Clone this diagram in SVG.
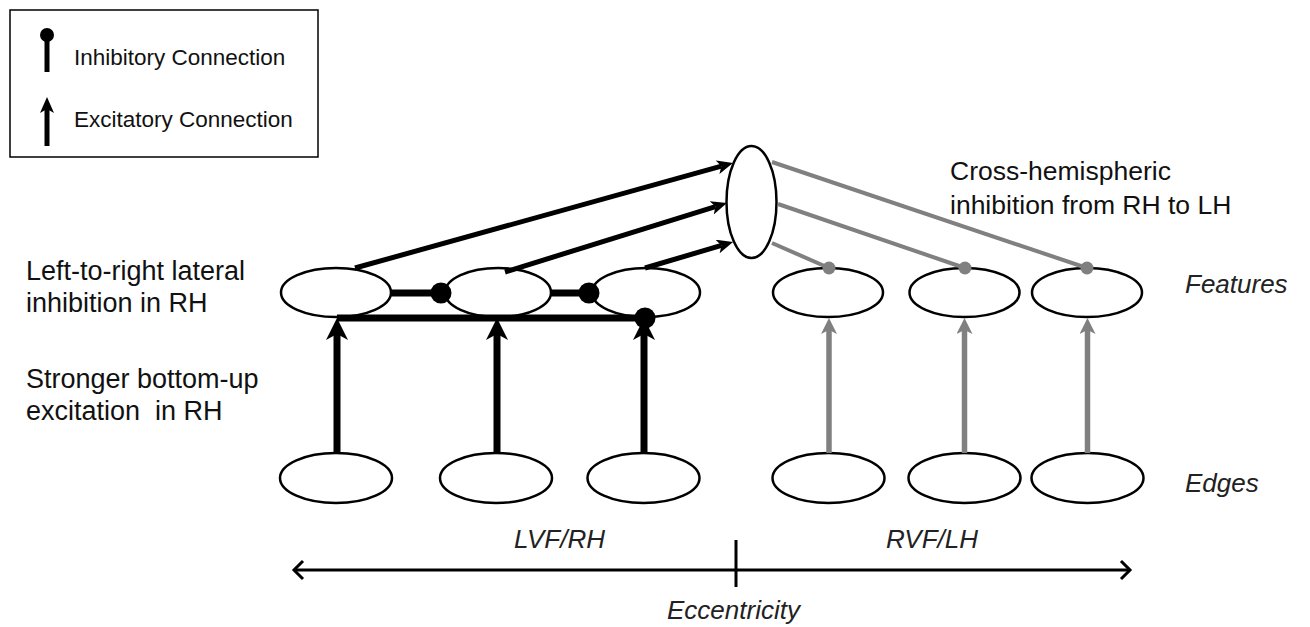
<svg xmlns="http://www.w3.org/2000/svg" width="1310" height="627" viewBox="0 0 1310 627">
<style>
  .node { fill: #ffffff; stroke: #000000; stroke-width: 2.5; }
  .lbl { font-family: "Liberation Sans", Arial, sans-serif; font-size: 27px; fill: #111111; }
  .it { font-family: "Liberation Sans", Arial, sans-serif; font-size: 26px; font-style: italic; fill: #222222; }
  .leg { font-family: "Liberation Sans", Arial, sans-serif; font-size: 22.5px; fill: #111111; }
  .blk { stroke: #000000; fill: none; }
  .gry { stroke: #808080; fill: none; }
</style>
<defs>
  <marker id="arrB" viewBox="0 0 16 14" refX="4" refY="7" markerWidth="16" markerHeight="14" orient="auto" markerUnits="userSpaceOnUse">
    <path d="M0,0 L16,7 L0,14 L4,7 z" fill="#000000"/>
  </marker>
  <marker id="arrV" viewBox="0 0 22 22" refX="6" refY="11" markerWidth="22" markerHeight="22" orient="auto" markerUnits="userSpaceOnUse">
    <path d="M0,0 L22,11 L0,22 L6,11 z" fill="#000000"/>
  </marker>
  <marker id="arrG" viewBox="0 0 16 16" refX="4" refY="8" markerWidth="16" markerHeight="16" orient="auto" markerUnits="userSpaceOnUse">
    <path d="M0,0 L16,8 L0,16 L4,8 z" fill="#808080"/>
  </marker>
  <marker id="arrL" viewBox="0 0 16 14" refX="4" refY="7" markerWidth="16" markerHeight="14" orient="auto" markerUnits="userSpaceOnUse">
    <path d="M0,0 L16,7 L0,14 L4,7 z" fill="#000000"/>
  </marker>
</defs>

<rect width="1310" height="627" fill="#ffffff"/>

<g id="legend">
  <rect x="10" y="10" width="308" height="147" fill="#ffffff" stroke="#000000" stroke-width="1.5"/>
  <line x1="47" y1="35" x2="47" y2="72" class="blk" stroke-width="5"/>
  <circle cx="47" cy="35" r="7" fill="#000000"/>
  <text x="74" y="65" class="leg">Inhibitory Connection</text>
  <line x1="47" y1="146" x2="47" y2="109" class="blk" stroke-width="5" marker-end="url(#arrL)"/>
  <text x="74" y="127" class="leg">Excitatory Connection</text>
</g>

<g id="node-top"><ellipse cx="751.5" cy="202" rx="25" ry="56" class="node"/></g>

<g id="node-f1"><ellipse cx="336" cy="292.5" rx="55" ry="24.5" class="node"/></g>
<g id="node-f2"><ellipse cx="498" cy="292.5" rx="53" ry="24.5" class="node"/></g>
<g id="node-f3"><ellipse cx="646" cy="292.5" rx="54" ry="24.5" class="node"/></g>
<g id="node-f4"><ellipse cx="828" cy="292.5" rx="55" ry="24.5" class="node"/></g>
<g id="node-f5"><ellipse cx="964.5" cy="292.5" rx="55" ry="24.5" class="node"/></g>
<g id="node-f6"><ellipse cx="1087" cy="292.5" rx="55" ry="24.5" class="node"/></g>

<g id="node-e1"><ellipse cx="336" cy="478" rx="56" ry="25" class="node"/></g>
<g id="node-e2"><ellipse cx="496" cy="478" rx="56" ry="25" class="node"/></g>
<g id="node-e3"><ellipse cx="643.5" cy="478" rx="56" ry="25" class="node"/></g>
<g id="node-e4"><ellipse cx="828.5" cy="478" rx="56" ry="25" class="node"/></g>
<g id="node-e5"><ellipse cx="964.5" cy="478" rx="56" ry="25" class="node"/></g>
<g id="node-e6"><ellipse cx="1087.5" cy="478" rx="56" ry="25" class="node"/></g>

<g id="connectors">
  <line x1="355" y1="268" x2="721.4" y2="166.2" class="blk" stroke-width="5" marker-end="url(#arrB)"/>
  <line x1="505" y1="272" x2="715.5" y2="206.6" class="blk" stroke-width="5" marker-end="url(#arrB)"/>
  <line x1="645" y1="268" x2="721.5" y2="245.4" class="blk" stroke-width="5" marker-end="url(#arrB)"/>

  <line x1="391" y1="293" x2="441" y2="293" class="blk" stroke-width="7"/>
  <circle cx="441" cy="293" r="10.5" fill="#000000"/>
  <line x1="550" y1="293" x2="589" y2="293" class="blk" stroke-width="7"/>
  <circle cx="589" cy="293" r="10.5" fill="#000000"/>

  <line x1="337" y1="453" x2="337" y2="334" class="blk" stroke-width="7" marker-end="url(#arrV)"/>
  <line x1="497" y1="453" x2="497" y2="334" class="blk" stroke-width="7" marker-end="url(#arrV)"/>
  <line x1="644" y1="453" x2="644" y2="334" class="blk" stroke-width="7" marker-end="url(#arrV)"/>

  <line x1="337" y1="318" x2="645" y2="318" class="blk" stroke-width="7"/>
  <circle cx="645" cy="318" r="10.5" fill="#000000"/>

  <line x1="772" y1="162" x2="1087" y2="268" class="gry" stroke-width="4"/>
  <line x1="778" y1="204" x2="965" y2="268" class="gry" stroke-width="4"/>
  <line x1="772" y1="243" x2="829" y2="268" class="gry" stroke-width="4"/>
  <circle cx="1087" cy="268" r="6.5" fill="#808080"/>
  <circle cx="965" cy="268" r="6.5" fill="#808080"/>
  <circle cx="829" cy="268" r="6.5" fill="#808080"/>

  <line x1="829" y1="453" x2="829" y2="330" class="gry" stroke-width="5.5" marker-end="url(#arrG)"/>
  <line x1="964.5" y1="453" x2="964.5" y2="330" class="gry" stroke-width="5.5" marker-end="url(#arrG)"/>
  <line x1="1087.5" y1="453" x2="1087.5" y2="330" class="gry" stroke-width="5.5" marker-end="url(#arrG)"/>

  <line x1="294" y1="570" x2="1130" y2="570" class="blk" stroke-width="3"/>
  <path d="M303,561 L294,570 L303,579" class="blk" stroke-width="3"/>
  <path d="M1121,561 L1130,570 L1121,579" class="blk" stroke-width="3"/>
  <line x1="736" y1="540" x2="736" y2="587" class="blk" stroke-width="3"/>
</g>

<g id="labels">
  <text x="26" y="280" class="lbl">Left-to-right lateral</text>
  <text x="26" y="312" class="lbl">inhibition in RH</text>
  <text x="26" y="388" class="lbl">Stronger bottom-up</text>
  <text x="26" y="420" class="lbl" xml:space="preserve">excitation  in RH</text>
  <text x="950" y="180" class="lbl" style="font-size:26.5px">Cross-hemispheric</text>
  <text x="950" y="214" class="lbl" style="font-size:26.5px">inhibition from RH to LH</text>
  <text x="1185" y="293" class="it">Features</text>
  <text x="1185" y="492" class="it">Edges</text>
  <text x="514" y="548" class="it">LVF/RH</text>
  <text x="886" y="548" class="it">RVF/LH</text>
  <text x="667" y="619" class="it">Eccentricity</text>
</g>
</svg>
